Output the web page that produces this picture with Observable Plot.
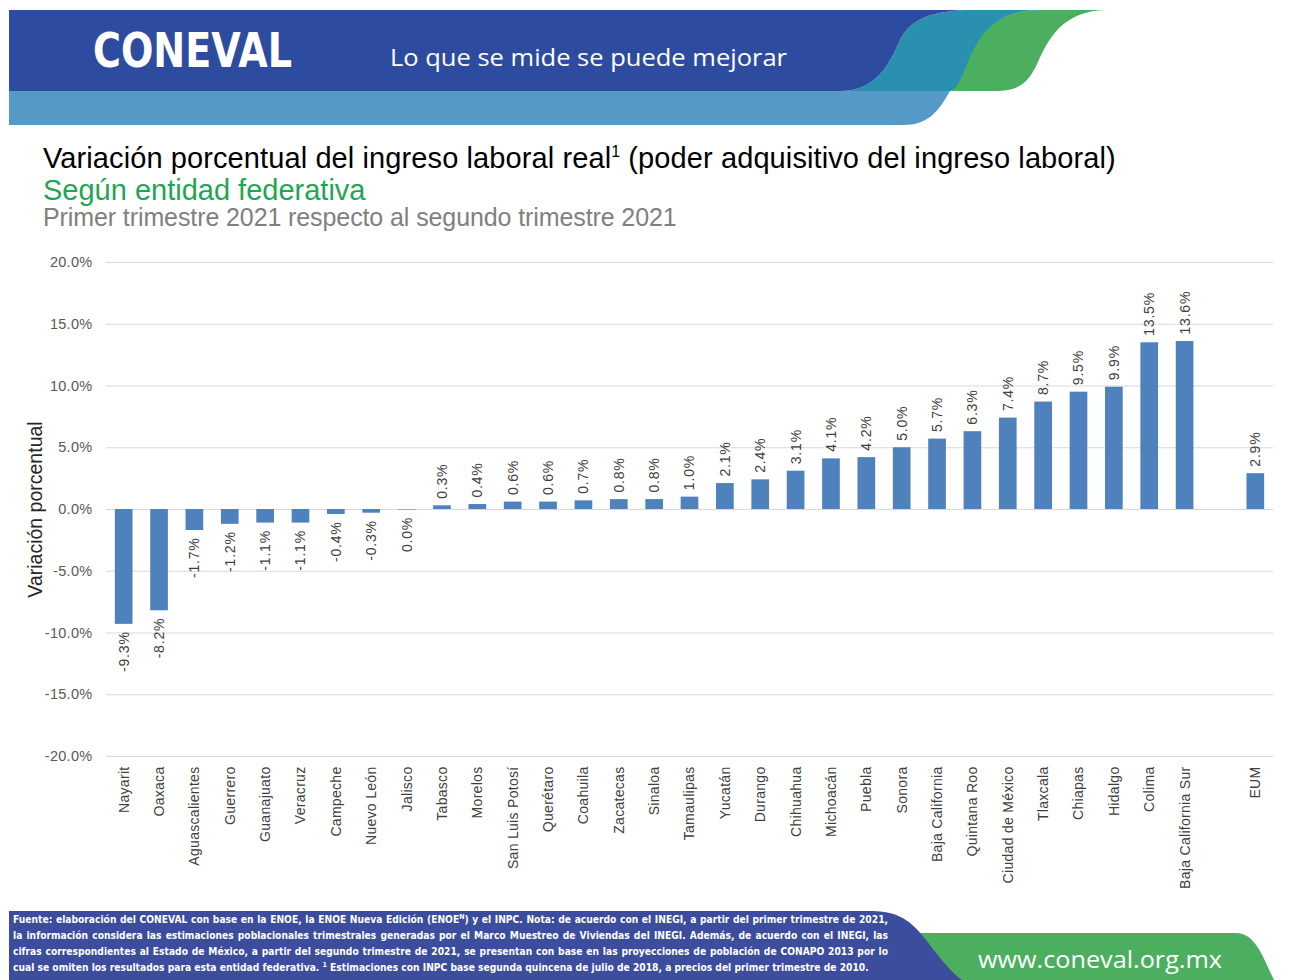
<!DOCTYPE html>
<html>
<head>
<meta charset="utf-8">
<script src="https://cdn.jsdelivr.net/npm/d3@7"></script>
<script src="https://cdn.jsdelivr.net/npm/@observablehq/plot@0.6"></script>
<style>
  html, body { margin: 0; padding: 0; background: #fff; }
  #page { position: relative; width: 1299px; height: 980px; overflow: hidden; font-family: "Liberation Sans", Arial, sans-serif; }
  .abs { position: absolute; }
  #title { left: 43px; top: 142px; font-size: 29px; color: #000; letter-spacing: 0.1px; white-space: nowrap; }
  #title sup { font-size: 16px; vertical-align: 11px; line-height: 0; }
  #sub1 { left: 43px; top: 174px; font-size: 29px; color: #1fa653; letter-spacing: 0px; white-space: nowrap; }
  #sub2 { left: 43px; top: 203px; font-size: 25px; color: #808080; letter-spacing: -0.1px; white-space: nowrap; }
  #chart { left: 0; top: 240px; }
  #chart g[aria-label="text"] text { letter-spacing: 0.8px; }
  #chart g[aria-label="x-axis tick label"] text { letter-spacing: 0.3px; }
  #chart g[aria-label="y-axis tick label"] text { letter-spacing: 0.3px; }
  #foot { left: 13px; top: 912px; width: 875px; font-family: "Liberation Sans Narrow", "DejaVu Sans Condensed", Arial, sans-serif; font-weight: bold; font-size: 10.2px; color: #fff; line-height: 16px; }
  #foot div { text-align: justify; text-align-last: justify; white-space: nowrap; }
  #foot div.last { text-align-last: left; }
  #foot sup { font-size: 7px; vertical-align: 4px; line-height: 0; }
</style>
</head>
<body>
<div id="page">
  <svg class="abs" style="left:0;top:0" width="1299" height="130">
    <path d="M9,91 H950 C938,112 928,125 903,125 H9 Z" fill="#5599c7"/>
    <path d="M948,91 C962,70 972,10 1040,10 H1108 C1062,10 1048,40 1038,62 C1028,84 1018,91 995,91 Z" fill="#4caf5f"/>
    <path d="M840,91 C878,91 890,62 900,40 C910,20 930,10 975,10 H1042 C990,10 978,40 968,62 C960,82 956,91 948,91 Z" fill="#2990b0"/>
    <path d="M9,10 H975 C930,10 910,20 900,40 C890,62 878,91 840,91 H9 Z" fill="#2e4c9f"/>
    <text x="93" y="67" fill="#fff" font-family="DejaVu Sans" font-weight="bold" font-size="48" textLength="199" lengthAdjust="spacingAndGlyphs">CONEVAL</text>
    <text x="390" y="66" fill="#fff" font-family="Open Sans, DejaVu Sans, sans-serif" font-size="24" textLength="397" lengthAdjust="spacingAndGlyphs">Lo que se mide se puede mejorar</text>
  </svg>

  <div id="title" class="abs">Variación porcentual del ingreso laboral real<sup>1</sup> (poder adquisitivo del ingreso laboral)</div>
  <div id="sub1" class="abs">Según entidad federativa</div>
  <div id="sub2" class="abs">Primer trimestre 2021 respecto al segundo trimestre 2021</div>

  <div id="chart" class="abs"></div>

  <svg class="abs" style="left:0;top:900px" width="1299" height="80">
    <path d="M920,33 H1236 C1255,33 1262,55 1274,80 H920 Z" fill="#4caf5f"/>
    <path d="M9,11 H872 C902,11 915,25 930,45 C945,65 955,75 962,80 H9 Z" fill="#3c4d9e"/>
    <text x="978" y="68" fill="#fff" font-family="Open Sans, DejaVu Sans, sans-serif" font-size="24" textLength="244" lengthAdjust="spacingAndGlyphs">www.coneval.org.mx</text>
  </svg>

  <div id="foot" class="abs">
    <div>Fuente: elaboración del CONEVAL con base en la ENOE, la ENOE Nueva Edición (ENOE<sup>N</sup>) y el INPC. Nota: de acuerdo con el INEGI, a partir del primer trimestre de 2021,</div>
    <div>la información considera las estimaciones poblacionales trimestrales generadas por el Marco Muestreo de Viviendas del INEGI. Además, de acuerdo con el INEGI, las</div>
    <div>cifras correspondientes al Estado de México, a partir del segundo trimestre de 2021, se presentan con base en las proyecciones de población de CONAPO 2013 por lo</div>
    <div class="last">cual se omiten los resultados para esta entidad federativa. <sup>1</sup> Estimaciones con INPC base segunda quincena de julio de 2018, a precios del primer trimestre de 2010.</div>
  </div>
</div>

<script>
const states = ["Nayarit","Oaxaca","Aguascalientes","Guerrero","Guanajuato","Veracruz","Campeche","Nuevo León","Jalisco","Tabasco","Morelos","San Luis Potosí","Querétaro","Coahuila","Zacatecas","Sinaloa","Tamaulipas","Yucatán","Durango","Chihuahua","Michoacán","Puebla","Sonora","Baja California","Quintana Roo","Ciudad de México","Tlaxcala","Chiapas","Hidalgo","Colima","Baja California Sur"];
const stateValues = [-9.3,-8.2,-1.7,-1.2,-1.1,-1.1,-0.4,-0.3,-0.04,0.3,0.4,0.6,0.6,0.7,0.8,0.8,1.0,2.1,2.4,3.1,4.1,4.2,5.0,5.7,6.3,7.4,8.7,9.5,9.9,13.5,13.6];
const nationalLabel = "EUM";
const nationalValue = 2.9;
const gapLabel = " ";
const yTicks = [-20,-15,-10,-5,0,5,10,15,20];

const data = states.map((s, i) => ({state: s, value: stateValues[i]}))
  .concat([{state: nationalLabel, value: nationalValue}]);
const domain = states.concat([gapLabel, nationalLabel]);
const fmt = v => (Math.round(v * 10) / 10 || 0).toFixed(1) + "%";

const chart = Plot.plot({
  width: 1299,
  height: 660,
  marginLeft: 106,
  marginRight: 26,
  marginTop: 22,
  marginBottom: 144,
  style: {fontFamily: "Liberation Sans, Arial, sans-serif", background: "transparent"},
  x: {domain, paddingInner: 0.5, paddingOuter: 0.25, round: false, label: null},
  y: {domain: [-20, 20], label: null},
  marks: [
    Plot.gridY(yTicks, {stroke: "#d9d9d9", strokeOpacity: 1, strokeWidth: 1}),
    Plot.barY(data, {x: "state", y: "value", fill: "#4f81bd"}),
    Plot.text(data.filter(d => d.value > 0), {x: "state", y: "value", text: d => fmt(d.value), rotate: -90, textAnchor: "start", dy: -7, fontSize: 14, fill: "#404040"}),
    Plot.text(data.filter(d => d.value <= 0), {x: "state", y: "value", text: d => fmt(d.value), rotate: -90, textAnchor: "end", dy: 7, fontSize: 14, fill: "#404040"}),
    Plot.axisY({ticks: yTicks, tickFormat: d => d.toFixed(1) + "%", tickSize: 0, tickPadding: 14, fontSize: 14.5, fill: "#595959", label: null}),
    Plot.axisY({ticks: [], label: "Variación porcentual", labelAnchor: "center", labelArrow: "none", labelOffset: 78, fontSize: 19.5, fill: "#262626"}),
    Plot.axisX({tickRotate: -90, tickSize: 0, tickPadding: 10, fontSize: 14, fill: "#404040", label: null})
  ]
});
document.getElementById("chart").appendChild(chart);
</script>
</body>
</html>
